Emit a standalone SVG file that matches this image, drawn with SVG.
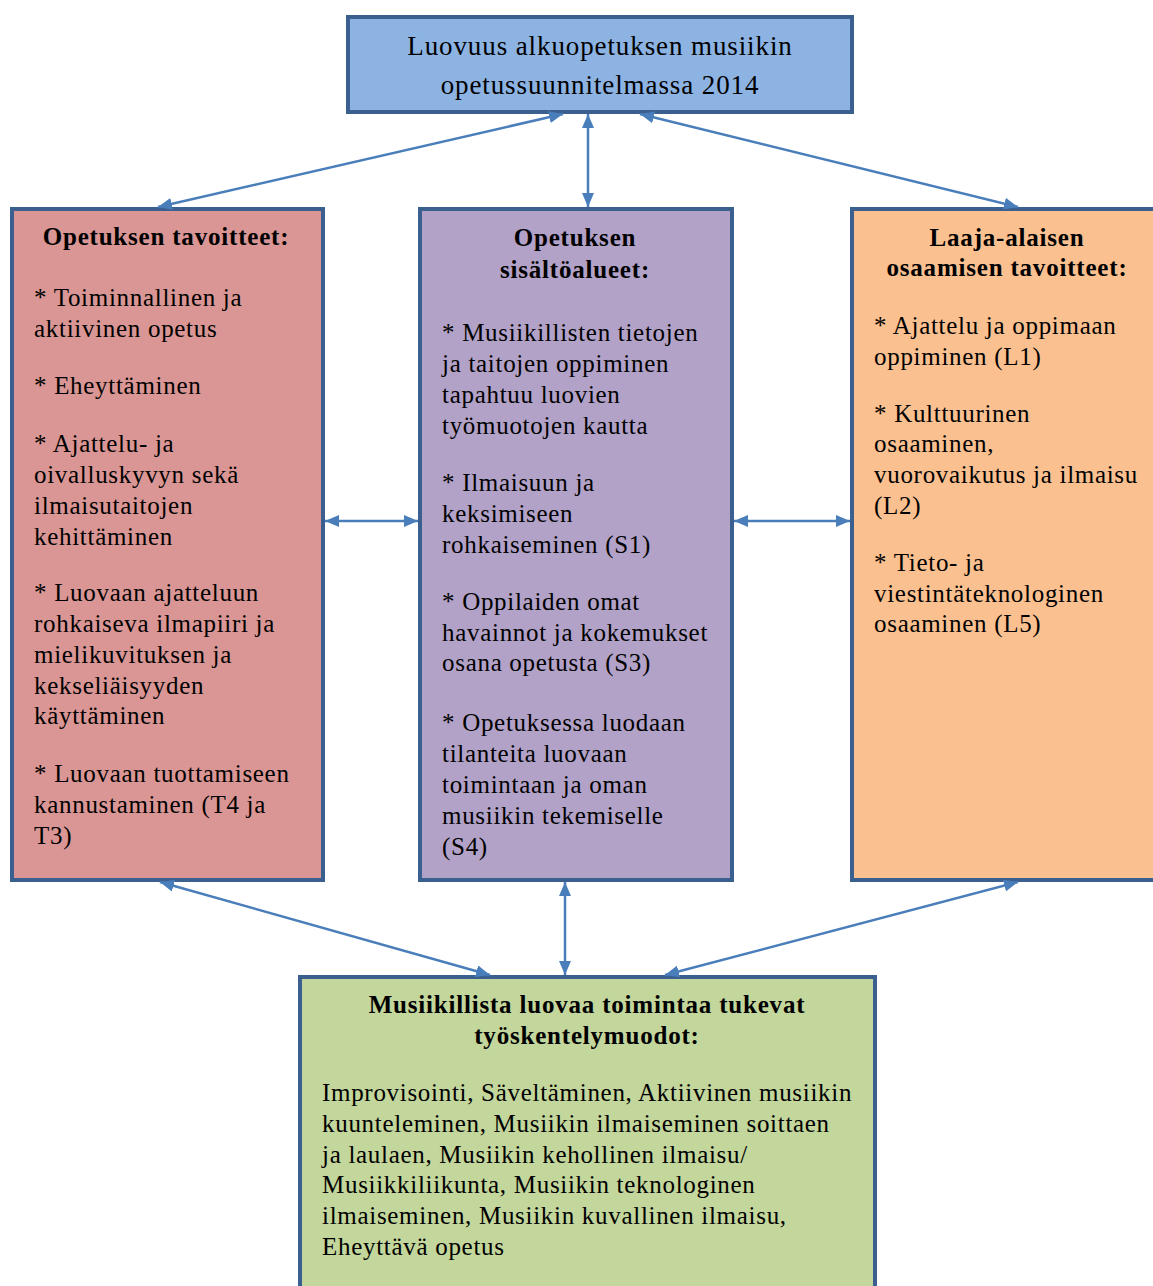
<svg xmlns="http://www.w3.org/2000/svg" width="1153" height="1286" viewBox="0 0 1153 1286">
<style>
.box{stroke:#3b5f8e;stroke-width:4}
.t{font-family:'Liberation Serif','Times New Roman',serif;font-size:25px;letter-spacing:0.7px;fill:#000}
.h{font-weight:bold;text-anchor:middle;letter-spacing:0.8px}
.title{font-size:27px;text-anchor:middle;letter-spacing:0.9px}
.c{stroke:#4a7ebb;stroke-width:2.5;fill:none;marker-start:url(#ah);marker-end:url(#ah)}
</style>
<defs>
<marker id="ah" viewBox="0 0 14 12" refX="14" refY="6" markerWidth="14" markerHeight="12" markerUnits="userSpaceOnUse" orient="auto-start-reverse">
<path d="M0,0 L14,6 L0,12 z" fill="#4a7ebb"/>
</marker>
</defs>
<rect width="1153" height="1286" fill="#ffffff"/>
<g id="top">
<rect class="box" x="348" y="17" width="504" height="95" fill="#8db3e2"/>
<text class="t title" x="600" y="55">Luovuus alkuopetuksen musiikin</text>
<text class="t title" x="600" y="94">opetussuunnitelmassa 2014</text>
</g>
<g id="left">
<rect class="box" x="12" y="209" width="311" height="671" fill="#d99694"/>
<text class="t h" x="166" y="245">Opetuksen tavoitteet:</text>
<text class="t" x="34" y="306">* Toiminnallinen ja</text>
<text class="t" x="34" y="337">aktiivinen opetus</text>
<text class="t" x="34" y="394">* Eheyttäminen</text>
<text class="t" x="34" y="452">* Ajattelu- ja</text>
<text class="t" x="34" y="483">oivalluskyvyn sekä</text>
<text class="t" x="34" y="514">ilmaisutaitojen</text>
<text class="t" x="34" y="545">kehittäminen</text>
<text class="t" x="34" y="601">* Luovaan ajatteluun</text>
<text class="t" x="34" y="632">rohkaiseva ilmapiiri ja</text>
<text class="t" x="34" y="663">mielikuvituksen ja</text>
<text class="t" x="34" y="694">kekseliäisyyden</text>
<text class="t" x="34" y="724">käyttäminen</text>
<text class="t" x="34" y="782">* Luovaan tuottamiseen</text>
<text class="t" x="34" y="813">kannustaminen (T4 ja</text>
<text class="t" x="34" y="844">T3)</text>
</g>
<g id="middle">
<rect class="box" x="420" y="209" width="312" height="671" fill="#b2a2c7"/>
<text class="t h" x="575" y="246">Opetuksen</text>
<text class="t h" x="575" y="278">sisältöalueet:</text>
<text class="t" x="442" y="341">* Musiikillisten tietojen</text>
<text class="t" x="442" y="372">ja taitojen oppiminen</text>
<text class="t" x="442" y="403">tapahtuu luovien</text>
<text class="t" x="442" y="434">työmuotojen kautta</text>
<text class="t" x="442" y="491">* Ilmaisuun ja</text>
<text class="t" x="442" y="522">keksimiseen</text>
<text class="t" x="442" y="553">rohkaiseminen (S1)</text>
<text class="t" x="442" y="610">* Oppilaiden omat</text>
<text class="t" x="442" y="641">havainnot ja kokemukset</text>
<text class="t" x="442" y="671">osana opetusta (S3)</text>
<text class="t" x="442" y="731">* Opetuksessa luodaan</text>
<text class="t" x="442" y="762">tilanteita luovaan</text>
<text class="t" x="442" y="793">toimintaan ja oman</text>
<text class="t" x="442" y="824">musiikin tekemiselle</text>
<text class="t" x="442" y="855">(S4)</text>
</g>
<g id="right">
<rect class="box" x="852" y="209" width="320" height="671" fill="#fac090"/>
<text class="t h" x="1007" y="246">Laaja-alaisen</text>
<text class="t h" x="1007" y="276">osaamisen tavoitteet:</text>
<text class="t" x="874" y="334">* Ajattelu ja oppimaan</text>
<text class="t" x="874" y="365">oppiminen (L1)</text>
<text class="t" x="874" y="422">* Kulttuurinen</text>
<text class="t" x="874" y="452">osaaminen,</text>
<text class="t" x="874" y="483">vuorovaikutus ja ilmaisu</text>
<text class="t" x="874" y="514">(L2)</text>
<text class="t" x="874" y="571">* Tieto- ja</text>
<text class="t" x="874" y="602">viestintäteknologinen</text>
<text class="t" x="874" y="632">osaaminen (L5)</text>
</g>
<g id="bottom">
<rect class="box" x="300" y="977" width="575" height="400" fill="#c3d69b"/>
<text class="t h" x="587" y="1013">Musiikillista luovaa toimintaa tukevat</text>
<text class="t h" x="587" y="1044">työskentelymuodot:</text>
<text class="t" x="322" y="1101">Improvisointi, Säveltäminen, Aktiivinen musiikin</text>
<text class="t" x="322" y="1132">kuunteleminen, Musiikin ilmaiseminen soittaen</text>
<text class="t" x="322" y="1163">ja laulaen, Musiikin kehollinen ilmaisu/</text>
<text class="t" x="322" y="1193">Musiikkiliikunta, Musiikin teknologinen</text>
<text class="t" x="322" y="1224">ilmaiseminen, Musiikin kuvallinen ilmaisu,</text>
<text class="t" x="322" y="1255">Eheyttävä opetus</text>
</g>
<g id="connectors">
<line class="c" x1="563" y1="114" x2="158" y2="207"/>
<line class="c" x1="588" y1="114" x2="588" y2="207"/>
<line class="c" x1="640" y1="114" x2="1018" y2="207"/>
<line class="c" x1="325" y1="521" x2="418" y2="521"/>
<line class="c" x1="734" y1="521" x2="850" y2="521"/>
<line class="c" x1="160" y1="882" x2="490" y2="975"/>
<line class="c" x1="565" y1="882" x2="565" y2="975"/>
<line class="c" x1="1018" y1="882" x2="665" y2="975"/>
</g>
</svg>
